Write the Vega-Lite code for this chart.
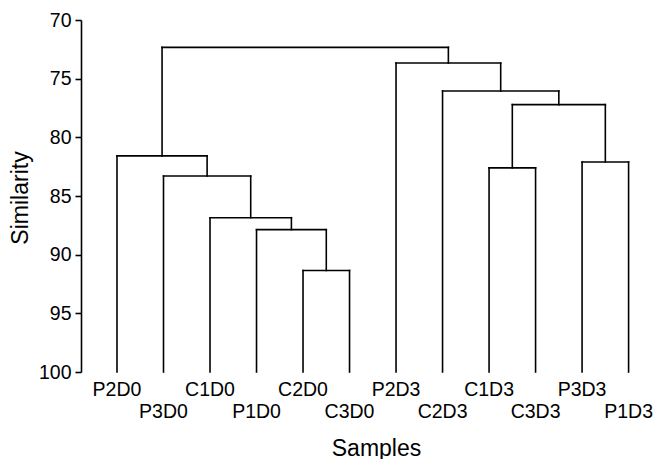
{
  "$schema": "https://vega.github.io/schema/vega-lite/v6.json",
  "autosize": "none",
  "width": 582,
  "height": 352,
  "padding": {"left": 81, "top": 20, "right": 6, "bottom": 87},
  "background": "white",
  "config": {
    "view": {"stroke": null},
    "font": "Liberation Sans"
  },
  "datasets": {
    "links": [
      {"x": 1, "x2": 1, "y": 100, "y2": 81.58},
      {"x": 2, "x2": 2, "y": 100, "y2": 83.3},
      {"x": 3, "x2": 3, "y": 100, "y2": 86.85},
      {"x": 4, "x2": 4, "y": 100, "y2": 87.87},
      {"x": 5, "x2": 5, "y": 100, "y2": 91.35},
      {"x": 6, "x2": 6, "y": 100, "y2": 91.35},
      {"x": 5.5, "x2": 5.5, "y": 91.35, "y2": 87.87},
      {"x": 4.75, "x2": 4.75, "y": 87.87, "y2": 86.85},
      {"x": 3.875, "x2": 3.875, "y": 86.85, "y2": 83.3},
      {"x": 2.9375, "x2": 2.9375, "y": 83.3, "y2": 81.58},
      {"x": 1.96875, "x2": 1.96875, "y": 81.58, "y2": 72.33},
      {"x": 7, "x2": 7, "y": 100, "y2": 73.67},
      {"x": 8, "x2": 8, "y": 100, "y2": 76.05},
      {"x": 9, "x2": 9, "y": 100, "y2": 82.6},
      {"x": 10, "x2": 10, "y": 100, "y2": 82.6},
      {"x": 11, "x2": 11, "y": 100, "y2": 82.1},
      {"x": 12, "x2": 12, "y": 100, "y2": 82.1},
      {"x": 9.5, "x2": 9.5, "y": 82.6, "y2": 77.21},
      {"x": 11.5, "x2": 11.5, "y": 82.1, "y2": 77.21},
      {"x": 10.5, "x2": 10.5, "y": 77.21, "y2": 76.05},
      {"x": 9.25, "x2": 9.25, "y": 76.05, "y2": 73.67},
      {"x": 8.125, "x2": 8.125, "y": 73.67, "y2": 72.33},
      {"x": 5, "x2": 6, "y": 91.35, "y2": 91.35},
      {"x": 4, "x2": 5.5, "y": 87.87, "y2": 87.87},
      {"x": 3, "x2": 4.75, "y": 86.85, "y2": 86.85},
      {"x": 2, "x2": 3.875, "y": 83.3, "y2": 83.3},
      {"x": 1, "x2": 2.9375, "y": 81.58, "y2": 81.58},
      {"x": 9, "x2": 10, "y": 82.6, "y2": 82.6},
      {"x": 11, "x2": 12, "y": 82.1, "y2": 82.1},
      {"x": 9.5, "x2": 11.5, "y": 77.21, "y2": 77.21},
      {"x": 8, "x2": 10.5, "y": 76.05, "y2": 76.05},
      {"x": 7, "x2": 9.25, "y": 73.67, "y2": 73.67},
      {"x": 1.96875, "x2": 8.125, "y": 72.33, "y2": 72.33}
    ],
    "leaves": [
      {"sample": "P2D0", "x": 1, "y": 100},
      {"sample": "P3D0", "x": 2, "y": 100},
      {"sample": "C1D0", "x": 3, "y": 100},
      {"sample": "P1D0", "x": 4, "y": 100},
      {"sample": "C2D0", "x": 5, "y": 100},
      {"sample": "C3D0", "x": 6, "y": 100},
      {"sample": "P2D3", "x": 7, "y": 100},
      {"sample": "C2D3", "x": 8, "y": 100},
      {"sample": "C1D3", "x": 9, "y": 100},
      {"sample": "C3D3", "x": 10, "y": 100},
      {"sample": "P3D3", "x": 11, "y": 100},
      {"sample": "P1D3", "x": 12, "y": 100}
    ]
  },
  "layer": [
    {
      "data": {"name": "links"},
      "mark": {"type": "rule", "color": "black", "strokeWidth": 1.6, "strokeCap": "square"},
      "encoding": {
        "x": {
          "field": "x", "type": "quantitative",
          "scale": {"domain": [0.226, 12.74], "nice": false, "zero": false},
          "axis": {
            "domain": false, "ticks": false, "labels": false, "grid": false,
            "title": "Samples", "titleFont": "Liberation Sans", "titleFontSize": 23,
            "titleFontWeight": "normal", "titleColor": "black",
            "titleX": 295, "titleY": 83, "titleBaseline": "alphabetic", "titleAlign": "center"
          }
        },
        "x2": {"field": "x2"},
        "y": {
          "field": "y", "type": "quantitative",
          "scale": {"domain": [70, 100], "reverse": true, "nice": false, "zero": false},
          "axis": {
            "values": [70, 75, 80, 85, 90, 95, 100],
            "grid": false,
            "domainColor": "black", "domainWidth": 1.6,
            "tickColor": "black", "tickWidth": 1.6, "tickSize": 6,
            "labelFont": "Liberation Sans", "labelFontSize": 19.5, "labelColor": "black",
            "labelPadding": 4,
            "title": "Similarity", "titleFont": "Liberation Sans", "titleFontSize": 23,
            "titleFontWeight": "normal", "titleColor": "black",
            "titleX": -54, "titleY": 177.5, "titleBaseline": "alphabetic", "titleAngle": -90, "titleAlign": "center"
          }
        },
        "y2": {"field": "y2"}
      }
    },
    {
      "data": {"name": "leaves"},
      "transform": [{"filter": "datum.x % 2 == 1"}],
      "mark": {"type": "text", "baseline": "alphabetic", "align": "center", "dy": 24, "fontSize": 19.5, "font": "Liberation Sans", "color": "black"},
      "encoding": {
        "x": {"field": "x", "type": "quantitative"},
        "y": {"field": "y", "type": "quantitative"},
        "text": {"field": "sample"}
      }
    },
    {
      "data": {"name": "leaves"},
      "transform": [{"filter": "datum.x % 2 == 0"}],
      "mark": {"type": "text", "baseline": "alphabetic", "align": "center", "dy": 45.5, "fontSize": 19.5, "font": "Liberation Sans", "color": "black"},
      "encoding": {
        "x": {"field": "x", "type": "quantitative"},
        "y": {"field": "y", "type": "quantitative"},
        "text": {"field": "sample"}
      }
    }
  ]
}
